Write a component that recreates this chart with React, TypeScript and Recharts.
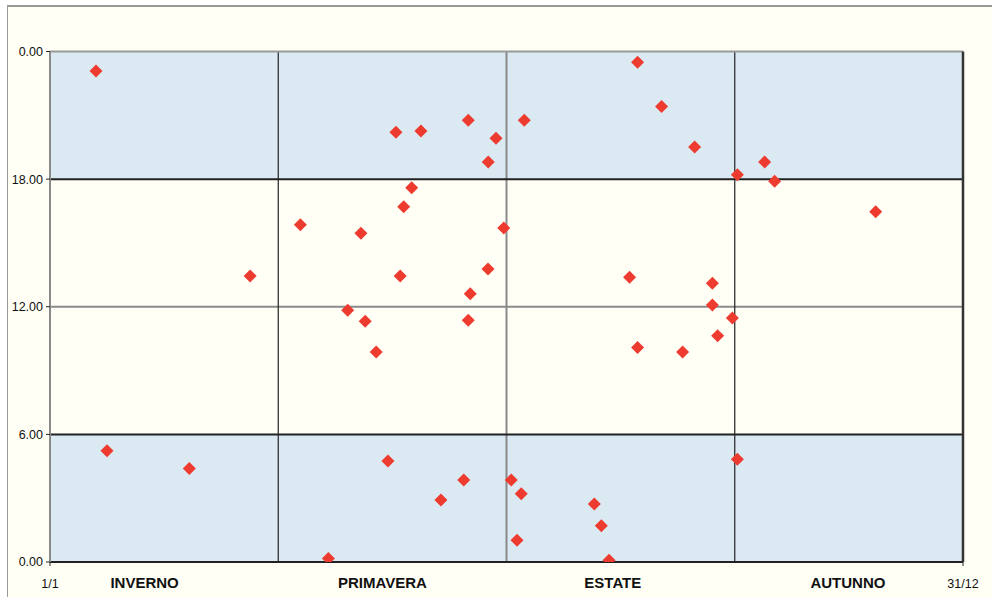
import React from 'react';
import { ScatterChart, Scatter, XAxis, YAxis, ReferenceArea, ReferenceLine } from 'recharts';

// giorno dell'anno (0 = 1/1) e ora del giorno
const days = [
  18.4, 22.8, 55.7, 80.0, 100.1, 111.3, 119.0, 124.3, 126.0, 130.4,
  135.1, 138.3, 140.0, 141.4, 144.6, 148.3, 156.3, 165.4, 167.2, 168.0,
  167.2, 175.2, 175.1, 178.3, 181.4, 184.4, 186.7, 188.4, 189.6, 217.6,
  220.4, 223.5, 231.7, 234.9, 234.9, 244.5, 252.9, 257.7, 264.8, 264.8,
  266.9, 272.8, 274.8, 274.8, 285.7, 289.7, 330.1,
];
const hours = [
  23.08, 5.23, 4.39, 13.45, 15.86, 0.17, 11.83, 15.45, 11.32, 9.87,
  4.75, 20.2, 13.45, 16.7, 17.6, 20.26, 2.91, 3.86, 20.77, 12.61,
  11.36, 18.81, 13.78, 19.92, 15.7, 3.86, 1.02, 3.21, 20.77, 2.73,
  1.71, 0.08, 13.39, 23.49, 10.08, 21.41, 9.87, 19.51, 13.1, 12.08,
  10.64, 11.47, 18.21, 4.83, 18.81, 17.9, 16.47,
];

const dateTicks = [0, 365];
const dateLabels = ['1/1', '31/12'];
const seasons = ['INVERNO', 'PRIMAVERA', 'ESTATE', 'AUTUNNO'];
const seasonPos = [37.8, 132.9, 225, 319];
const seasonBounds = [91.25, 182.5, 273.75];
const hourTicks = [0, 6, 12, 18, 24];

const data = days.map((d, i) => ({ day: d, hour: hours[i] }));

const FONT = '"Liberation Sans", Arial, sans-serif';
const BLUE = '#DAE9F2';
const CREAM = '#FFFFF6';
const RED = '#EE3B2F';

const Diamond = (props: any) => {
  const { cx, cy } = props;
  const r = 6.5;
  return <path d={`M${cx},${cy - r}L${cx + r},${cy}L${cx},${cy + r}L${cx - r},${cy}Z`} fill={RED} />;
};

const XTick = (props: any) => {
  const { x, y, payload } = props;
  const v = payload.value;
  const di = dateTicks.indexOf(v);
  if (di >= 0) {
    return (
      <g>
        <line x1={x} x2={x} y1={y} y2={y + 4} stroke="#222" />
        <text x={x} y={y + 26} textAnchor="middle" fontSize={12.5} fontFamily={FONT} fill="#111">
          {dateLabels[di]}
        </text>
      </g>
    );
  }
  const si = seasonPos.indexOf(v);
  return (
    <text x={x} y={y + 26} textAnchor="middle" fontSize={15} fontWeight="bold" fontFamily={FONT} fill="#111">
      {seasons[si]}
    </text>
  );
};

export default function App() {
  return (
    <div
      style={{
        position: 'absolute',
        left: 7,
        top: 5,
        width: 985,
        height: 592,
        background: CREAM,
        borderTop: '2px solid #9a9a9a',
        borderLeft: '1px solid #9a9a9a',
        boxSizing: 'border-box',
        fontFamily: FONT,
      }}
    >
      <div style={{ position: 'absolute', left: -1, top: -2 }}>
        <ScatterChart width={985} height={592} margin={{ top: 46.5, right: 29, left: 0, bottom: 0 }}>
          <XAxis
            type="number"
            dataKey="day"
            domain={[0, 365]}
            ticks={[...dateTicks.slice(0, 1), ...seasonPos, ...dateTicks.slice(1)]}
            interval={0}
            height={35}
            tickLine={false}
            tickSize={0}
            tickMargin={0}
            tick={<XTick />}
            axisLine={{ stroke: '#222', strokeWidth: 2 }}
            allowDataOverflow
          />
          <YAxis
            type="number"
            dataKey="hour"
            domain={[0, 24]}
            ticks={hourTicks}
            interval={0}
            width={43}
            tickSize={4}
            tickMargin={3}
            tickLine={{ stroke: '#222' }}
            tickFormatter={(v: number) => (v % 24).toFixed(2)}
            tick={{ fontSize: 12.5, fill: '#111', fontFamily: FONT }}
            axisLine={{ stroke: '#8a8a8a', strokeWidth: 2 }}
            allowDataOverflow
          />
          <ReferenceArea x1={0} x2={365} y1={18} y2={24} fill={BLUE} fillOpacity={1} stroke="none" />
          <ReferenceArea x1={0} x2={365} y1={6} y2={18} fill={CREAM} fillOpacity={1} stroke="none" />
          <ReferenceArea x1={0} x2={365} y1={0} y2={6} fill={BLUE} fillOpacity={1} stroke="none" />
          <ReferenceLine y={12} stroke="#8a8a8a" strokeWidth={2} />
          <ReferenceLine x={seasonBounds[1]} stroke="#8a8a8a" strokeWidth={2} />
          <ReferenceLine x={seasonBounds[0]} stroke="#222" strokeWidth={1.2} />
          <ReferenceLine x={seasonBounds[2]} stroke="#222" strokeWidth={1.2} />
          <ReferenceLine y={18} stroke="#222" strokeWidth={2} />
          <ReferenceLine y={6} stroke="#222" strokeWidth={2} />
          <ReferenceLine y={24} stroke="#999" strokeWidth={2} />
          <ReferenceLine x={365} stroke="#333" strokeWidth={2.5} />
          <Scatter data={data} shape={<Diamond />} isAnimationActive={false} />
        </ScatterChart>
      </div>
    </div>
  );
}
